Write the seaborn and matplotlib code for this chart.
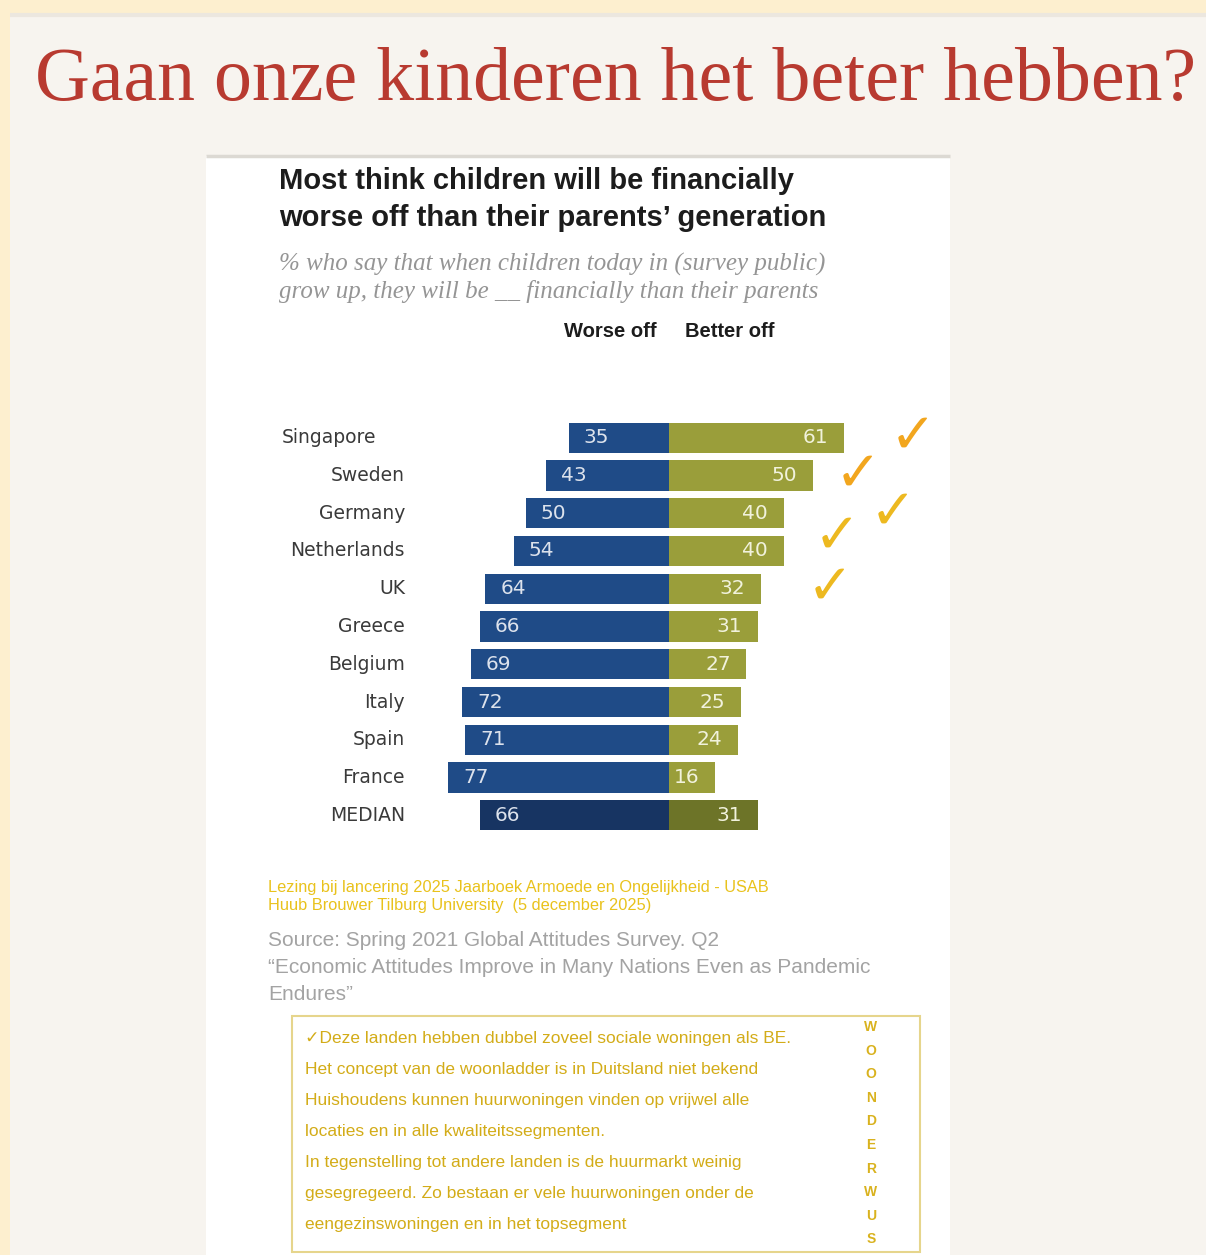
import numpy as np
import pandas as pd
import matplotlib
matplotlib.use("Agg")
import matplotlib.pyplot as plt
import seaborn as sns
from matplotlib.patches import Rectangle
from matplotlib.transforms import blended_transform_factory

# ---- data -------------------------------------------------------------
countries = ["Singapore", "Sweden", "Germany", "Netherlands", "UK", "Greece",
             "Belgium", "Italy", "Spain", "France", "MEDIAN"]
worse_off = [35, 43, 50, 54, 64, 66, 69, 72, 71, 77, 66]
better_off = [61, 50, 40, 40, 32, 31, 27, 25, 24, 16, 31]
checked_countries = ["Singapore", "Sweden", "Germany", "Netherlands", "UK"]

page_title = "Gaan onze kinderen het beter hebben?"
chart_title = ["Most think children will be financially",
               "worse off than their parents\u2019 generation"]
chart_subtitle = ["% who say that when children today in (survey public)",
                  "grow up, they will be __ financially than their parents"]
col_headers = ["Worse off", "Better off"]
talk_note = ["Lezing bij lancering 2025 Jaarboek Armoede en Ongelijkheid - USAB",
             "Huub Brouwer Tilburg University  (5 december 2025)"]
source_note = ["Source: Spring 2021 Global Attitudes Survey. Q2",
               "\u201cEconomic Attitudes Improve in Many Nations Even as Pandemic",
               "Endures\u201d"]
box_lines = ["\u2713Deze landen hebben dubbel zoveel sociale woningen als BE.",
             "Het concept van de woonladder is in Duitsland niet bekend",
             "Huishoudens kunnen huurwoningen vinden op vrijwel alle",
             "locaties en in alle kwaliteitssegmenten.",
             "In tegenstelling tot andere landen is de huurmarkt weinig",
             "gesegregeerd. Zo bestaan er vele huurwoningen onder de",
             "eengezinswoningen en in het topsegment"]
side_word = "WOONDERWUS"

# ---- style ------------------------------------------------------------
sns.set_theme(style="white")
plt.rcParams["font.family"] = ["Liberation Sans", "DejaVu Sans"]

W, H = 1206, 1255
fig = plt.figure(figsize=(W / 100, H / 100), dpi=100)
fig.patch.set_facecolor("#FDEFCF")

# full-page canvas in pixel units (y grows downward)
bg = fig.add_axes([0, 0, 1, 1], zorder=-1)
bg.set_xlim(0, W)
bg.set_ylim(H, 0)
bg.axis("off")

bg.add_patch(Rectangle((10, 14), W - 10, H - 14, fc="#F7F4EF", ec="none"))
bg.plot([10, W], [15, 15], color="#ECE7DF", lw=3, solid_capstyle="butt")
bg.add_patch(Rectangle((206, 156), 744, H - 156, fc="white", ec="none"))
bg.plot([206, 950], [156, 156], color="#DCD9D3", lw=2.5, solid_capstyle="butt")
bg.add_patch(Rectangle((292, 1016), 628, 236, fc="none", ec="#E6D58C", lw=1.5))

bg.text(35, 100, page_title, family="Liberation Serif", fontsize=54.6,
        color="#B83A30", va="baseline")

for k, line in enumerate(chart_title):
    bg.text(279, 189 + 37 * k, line, fontsize=21, weight="bold",
            color="#1C1C1C", va="baseline")
for k, line in enumerate(chart_subtitle):
    bg.text(279, 271 + 27 * k, line, family="Liberation Serif", style="italic",
            fontsize=18, color="#959595", va="baseline")

bg.text(657, 337, col_headers[0], fontsize=14.5, weight="bold",
        color="#1C1C1C", ha="right", va="baseline")
bg.text(685, 337, col_headers[1], fontsize=14.5, weight="bold",
        color="#1C1C1C", ha="left", va="baseline")

for k, line in enumerate(talk_note):
    bg.text(268, 892 + 18 * k, line, fontsize=11.8, color="#E9C21C", va="baseline")
for k, line in enumerate(source_note):
    bg.text(268, 946 + 27 * k, line, fontsize=15, color="#A3A3A3", va="baseline")
for k, line in enumerate(box_lines):
    bg.text(305, 1043 + 31 * k, line, fontsize=12.5, color="#D3AC18",
            va="baseline", family=["Liberation Sans", "DejaVu Sans"])
for k, ch in enumerate(side_word):
    bg.text(871, 1027 + 23.6 * k, ch, fontsize=10, weight="bold",
            color="#D9B21E", ha="center", va="center")

# ---- diverging bar chart ---------------------------------------------
df = pd.DataFrame({"country": countries, "worse": worse_off, "better": better_off})
df["worse_neg"] = -df["worse"]
df["group"] = np.where(df["country"] == "MEDIAN", "median", "country")

px_per_unit = 2.87
zero_px = 669
ax_left, ax_right = 420, 900
ax_top, ax_bottom = 415, 838
ax = fig.add_axes([ax_left / W, 1 - ax_bottom / H,
                   (ax_right - ax_left) / W, (ax_bottom - ax_top) / H], zorder=1)
ax.patch.set_alpha(0)

sns.barplot(data=df, x="worse_neg", y="country", hue="group", dodge=False,
            palette={"country": "#1F4B87", "median": "#173462"},
            width=0.8, saturation=1, linewidth=0, legend=False, ax=ax)
sns.barplot(data=df, x="better", y="country", hue="group", dodge=False,
            palette={"country": "#9A9E3A", "median": "#6D7428"},
            width=0.8, saturation=1, linewidth=0, legend=False, ax=ax)

ax.set_xlim((ax_left - zero_px) / px_per_unit, (ax_right - zero_px) / px_per_unit)
ax.set_ylim(len(countries) - 0.4, -0.6)
ax.set_axis_off()

for i, (w, b) in enumerate(zip(worse_off, better_off)):
    ax.text(-w + 5.2, i, str(w), ha="left", va="center", fontsize=14.5,
            family="DejaVu Sans", color="#DCE2EC")
    ax.text(b - 5.5, i, str(b), ha="right", va="center", fontsize=14.5,
            family="DejaVu Sans", color="#F1F2DC")

# country names, pixel x / row y
lab_tr = blended_transform_factory(bg.transData, ax.transData)
label_right = {"Singapore": 376}
for i, name in enumerate(countries):
    ax.text(label_right.get(name, 405), i, name, transform=lab_tr, ha="right",
            va="center", fontsize=13.5, family="DejaVu Sans", color="#3A3A3A",
            clip_on=False)

# check marks beside the highlighted countries
check_x = {"Singapore": 913, "Sweden": 858, "Germany": 893,
           "Netherlands": 837, "UK": 830}
check_dy = {"Netherlands": -0.35}
check_col = {"Singapore": "#F2A61E", "Sweden": "#F2A61E"}
for name in checked_countries:
    i = countries.index(name)
    ax.text(check_x[name], i + check_dy.get(name, 0), "\u2713", transform=lab_tr,
            ha="center", va="center", fontsize=40, family="DejaVu Sans",
            color=check_col.get(name, "#EDB920"), clip_on=False)

fig.savefig("out.png", dpi=100, facecolor=fig.get_facecolor())
